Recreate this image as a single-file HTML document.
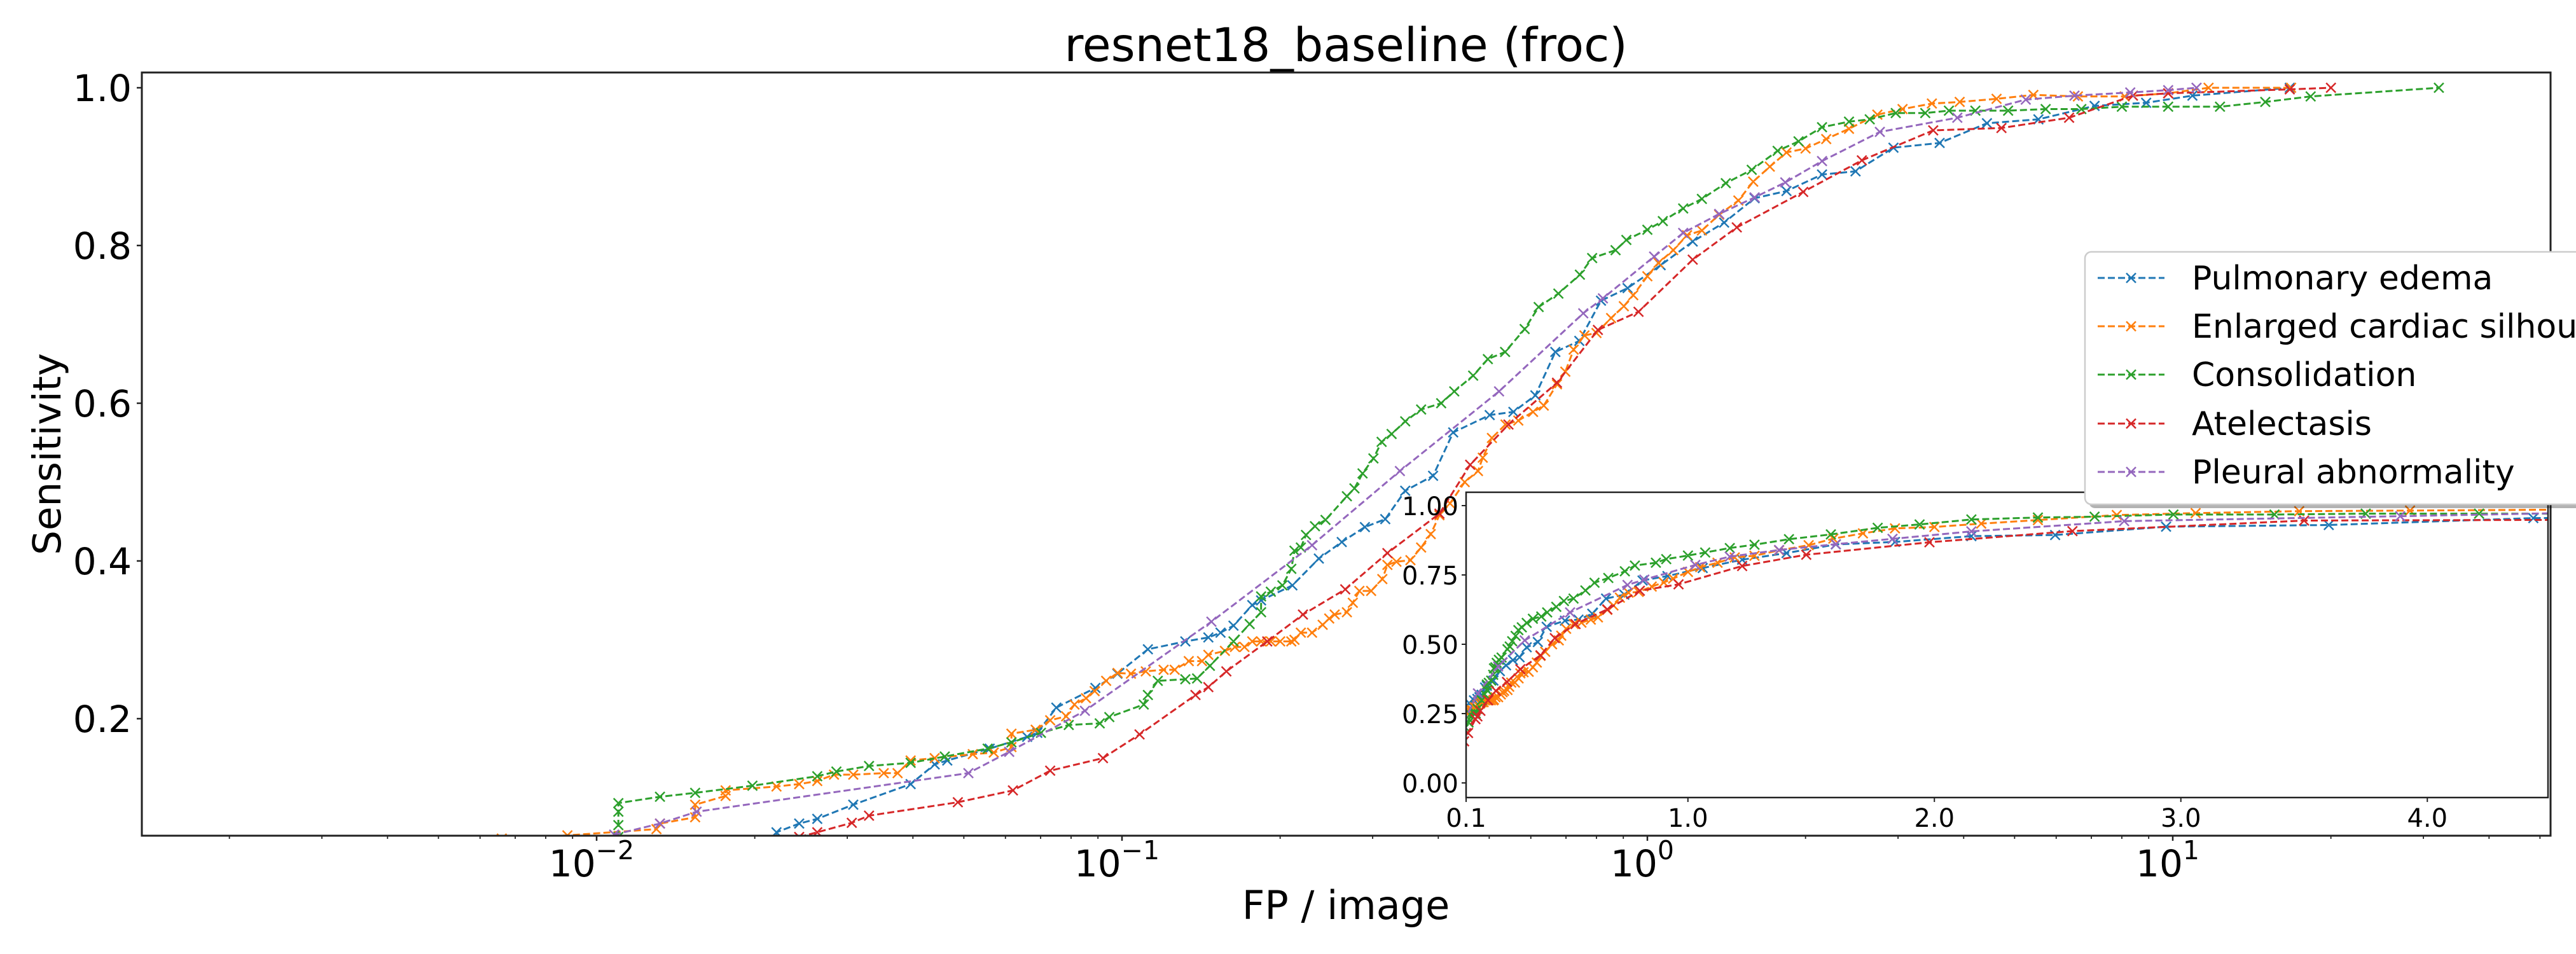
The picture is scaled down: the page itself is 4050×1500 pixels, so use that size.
<!DOCTYPE html>
<html><head><meta charset="utf-8">
<style>
html,body{margin:0;padding:0;background:#fff;}
svg{display:block;font-family:"DejaVu Sans","Liberation Sans",sans-serif;}
</style></head>
<body>
<svg id="chart" xmlns="http://www.w3.org/2000/svg" width="4050" height="1500" viewBox="0 0 4050 1500">
<defs>
<clipPath id="mainClip"><rect x="223" y="114" width="3787" height="1200"/></clipPath>
<clipPath id="insetClip"><rect x="2305" y="774" width="1701" height="480"/></clipPath>
</defs>
<rect x="0" y="0" width="4050" height="1500" fill="#fff"/>
<text x="2116" y="96" font-size="73" text-anchor="middle">resnet18_baseline (froc)</text>
<g id="mainPlot"></g>
<g id="mainAxes"></g>
<text x="2116" y="1445" font-size="62" text-anchor="middle">FP / image</text>
<text x="0" y="0" font-size="61" text-anchor="middle" transform="translate(95,714) rotate(-90)">Sensitivity</text>
<g id="inset"></g>
<g id="legend"></g>
</svg>
<script>
// ---- data: [FP per image, sensitivity] ----
const seriesNames = ["Pulmonary edema","Enlarged cardiac silhouette","Consolidation","Atelectasis","Pleural abnormality"];
const seriesColors = ["#1f77b4","#ff7f0e","#2ca02c","#d62728","#9467bd"];
const pulmonaryEdema = [[0.022,0.04],[0.022,0.056],[0.0243,0.067],[0.0263,0.073],[0.0308,0.091],[0.0396,0.117],[0.044,0.142],[0.0465,0.147],[0.056,0.162],[0.066,0.177],[0.069,0.182],[0.075,0.214],[0.089,0.239],[0.098,0.257],[0.112,0.288],[0.132,0.298],[0.146,0.303],[0.154,0.309],[0.163,0.318],[0.177,0.344],[0.184,0.35],[0.211,0.369],[0.237,0.403],[0.262,0.424],[0.29,0.443],[0.317,0.453],[0.346,0.489],[0.391,0.508],[0.427,0.563],[0.501,0.585],[0.556,0.589],[0.612,0.61],[0.668,0.665],[0.742,0.679],[0.816,0.73],[0.917,0.746],[1.06,0.775],[1.22,0.805],[1.40,0.829],[1.6,0.86],[1.84,0.869],[2.15,0.89],[2.49,0.894],[2.94,0.924],[3.6,0.93],[4.43,0.955],[5.55,0.96],[7.1,0.977],[8.9,0.981],[10.9,0.99],[16.7,1.0]];
const enlargedCardiac = [[0.0066,0.048],[0.0088,0.052],[0.013,0.06],[0.0132,0.067],[0.0154,0.075],[0.0154,0.091],[0.0176,0.102],[0.0176,0.109],[0.022,0.114],[0.0243,0.117],[0.0263,0.121],[0.0283,0.129],[0.0308,0.129],[0.0352,0.131],[0.0374,0.131],[0.0396,0.147],[0.044,0.15],[0.052,0.155],[0.057,0.157],[0.0616,0.164],[0.0616,0.181],[0.0685,0.186],[0.073,0.198],[0.0783,0.203],[0.0812,0.218],[0.0854,0.226],[0.0887,0.235],[0.0933,0.248],[0.0981,0.258],[0.104,0.257],[0.111,0.26],[0.12,0.262],[0.126,0.262],[0.134,0.273],[0.142,0.273],[0.146,0.281],[0.157,0.286],[0.164,0.291],[0.171,0.291],[0.177,0.298],[0.184,0.298],[0.192,0.298],[0.2,0.298],[0.21,0.298],[0.213,0.3],[0.219,0.309],[0.23,0.309],[0.241,0.319],[0.248,0.327],[0.254,0.332],[0.268,0.335],[0.275,0.347],[0.283,0.362],[0.298,0.362],[0.313,0.377],[0.32,0.395],[0.333,0.399],[0.354,0.401],[0.371,0.417],[0.387,0.434],[0.402,0.458],[0.421,0.473],[0.449,0.5],[0.476,0.514],[0.486,0.531],[0.506,0.556],[0.537,0.573],[0.568,0.578],[0.606,0.589],[0.635,0.597],[0.673,0.624],[0.698,0.64],[0.724,0.668],[0.759,0.686],[0.8,0.689],[0.853,0.708],[0.902,0.723],[0.94,0.737],[1.0,0.761],[1.05,0.778],[1.12,0.794],[1.19,0.813],[1.27,0.819],[1.37,0.839],[1.49,0.857],[1.59,0.881],[1.71,0.9],[1.84,0.918],[2.0,0.923],[2.19,0.935],[2.42,0.948],[2.74,0.966],[3.06,0.973],[3.48,0.98],[3.93,0.982],[4.62,0.986],[5.43,0.991],[6.6,0.989],[8.1,0.989],[9.8,0.993],[11.7,1.0],[16.8,1.0]];
const consolidation = [[0.011,0.05],[0.011,0.065],[0.011,0.082],[0.011,0.093],[0.0132,0.101],[0.0154,0.106],[0.0198,0.115],[0.0263,0.127],[0.0286,0.133],[0.033,0.14],[0.0396,0.144],[0.046,0.152],[0.0555,0.162],[0.0616,0.17],[0.0701,0.182],[0.0792,0.192],[0.0907,0.194],[0.0946,0.202],[0.11,0.218],[0.112,0.23],[0.117,0.248],[0.132,0.25],[0.139,0.251],[0.147,0.267],[0.163,0.298],[0.175,0.32],[0.184,0.335],[0.184,0.355],[0.192,0.361],[0.202,0.369],[0.21,0.39],[0.213,0.413],[0.219,0.417],[0.224,0.433],[0.233,0.444],[0.244,0.452],[0.268,0.482],[0.277,0.492],[0.287,0.511],[0.301,0.53],[0.312,0.551],[0.326,0.561],[0.346,0.577],[0.371,0.592],[0.405,0.6],[0.429,0.615],[0.466,0.635],[0.497,0.656],[0.536,0.665],[0.584,0.694],[0.621,0.722],[0.677,0.739],[0.744,0.763],[0.785,0.784],[0.87,0.794],[0.912,0.807],[1.0,0.82],[1.07,0.831],[1.17,0.847],[1.27,0.859],[1.41,0.879],[1.58,0.896],[1.77,0.92],[1.94,0.932],[2.15,0.95],[2.42,0.957],[2.65,0.96],[2.97,0.968],[3.38,0.968],[3.75,0.971],[4.21,0.971],[4.86,0.971],[5.73,0.973],[6.7,0.973],[8.0,0.976],[9.8,0.976],[12.3,0.976],[15.0,0.982],[18.3,0.989],[32.1,1.0]];
const atelectasis = [[0.0243,0.05],[0.0263,0.056],[0.0306,0.068],[0.033,0.077],[0.0487,0.094],[0.062,0.109],[0.073,0.134],[0.092,0.15],[0.108,0.18],[0.138,0.23],[0.146,0.24],[0.158,0.26],[0.189,0.298],[0.221,0.332],[0.266,0.364],[0.32,0.41],[0.402,0.46],[0.46,0.522],[0.544,0.573],[0.673,0.626],[0.805,0.693],[0.962,0.716],[1.22,0.782],[1.48,0.823],[1.98,0.868],[2.56,0.908],[3.5,0.946],[4.72,0.949],[6.35,0.962],[8.4,0.99],[9.8,0.993],[16.7,0.998],[20.0,1.0]];
const pleuralAbnormality = [[0.0108,0.053],[0.0132,0.067],[0.0155,0.082],[0.051,0.131],[0.061,0.158],[0.085,0.21],[0.148,0.323],[0.23,0.42],[0.338,0.514],[0.522,0.615],[0.755,0.714],[0.823,0.733],[1.03,0.786],[1.17,0.816],[1.37,0.84],[1.6,0.861],[1.83,0.88],[2.15,0.907],[2.77,0.944],[3.89,0.962],[5.25,0.985],[6.5,0.99],[8.3,0.994],[9.8,0.997],[11.1,1.0]];
const yTickValues = [0.2,0.4,0.6,0.8,1.0];
const yTickLabels = ["0.2","0.4","0.6","0.8","1.0"];
const xDecades = [-2,-1,0,1];
const insetYTicks = [0,0.25,0.5,0.75,1.0];
const insetYLabels = ["0.00","0.25","0.50","0.75","1.00"];
const insetXTicks = [0.1,1,2,3,4];
const insetXLabels = ["0.1","1.0","2.0","3.0","4.0"];

const allSeries = [pulmonaryEdema, enlargedCardiac, consolidation, atelectasis, pleuralAbnormality];
const NS = "http://www.w3.org/2000/svg";
function mk(tag, attrs, parent){const e=document.createElementNS(NS,tag);for(const k in attrs)e.setAttribute(k,attrs[k]);if(parent)parent.appendChild(e);return e;}

const MX0=223, MX1=4010, MY0=114, MY1=1314;
function xMain(v){return 2590 + 826*Math.log10(v);}
function yMain(v){return 138 + (1-v)*1240;}
const IX0=2305, IX1=4006, IY0=774, IY1=1254;
function xIn(v){return 2305 + (v-0.1)*387.5;}
function yIn(v){return 795 + (1-v)*436;}

function drawSeries(parent, data, color, xf, yf, idx, prefix){
  const g = mk('g',{},parent);
  
  
  const pts = data.map(p=>xf(p[0]).toFixed(1)+','+yf(p[1]).toFixed(1)).join(' ');
  const line = mk('polyline',{points:pts,fill:'none',stroke:color,'stroke-width':3,'stroke-dasharray':'11 5'},g);
  
  
  let d='';
  data.forEach(p=>{const x=xf(p[0]),y=yf(p[1]);d+=`M${(x-7.5).toFixed(1)} ${(y-7.5).toFixed(1)}L${(x+7.5).toFixed(1)} ${(y+7.5).toFixed(1)}M${(x-7.5).toFixed(1)} ${(y+7.5).toFixed(1)}L${(x+7.5).toFixed(1)} ${(y-7.5).toFixed(1)}`;});
  const m = mk('path',{d:d,stroke:color,'stroke-width':2.5,fill:'none'},g);
  
  
}

const mainPlot=document.getElementById('mainPlot');
const mclip=mk('g',{'clip-path':'url(#mainClip)'},mainPlot);
allSeries.forEach((s,i)=>drawSeries(mclip,s,seriesColors[i],xMain,yMain,i,'main'));

const ax=document.getElementById('mainAxes');
mk('rect',{x:MX0,y:MY0,width:MX1-MX0,height:MY1-MY0,fill:'none',stroke:'#222','stroke-width':3},ax);
yTickValues.forEach((v,i)=>{
  const y=yMain(v);
  mk('line',{x1:MX0-8,x2:MX0,y1:y,y2:y,stroke:'#222','stroke-width':2.5},ax);
  const t=mk('text',{x:MX0-16,y:y+21,'font-size':58,'text-anchor':'end'},ax);
  
  
  t.textContent=yTickLabels[i];
});
for(let d=-3; d<=1; d++){
  for(let k=2;k<=9;k++){
    const x=xMain(k*Math.pow(10,d));
    if(x>MX0 && x<MX1) mk('line',{x1:x,x2:x,y1:MY1,y2:MY1+5,stroke:'#222','stroke-width':1.8},ax);
  }
}
xDecades.forEach(d=>{
  const x=xMain(Math.pow(10,d));
  mk('line',{x1:x,x2:x,y1:MY1,y2:MY1+8,stroke:'#222','stroke-width':2.5},ax);
  const t=mk('text',{x:x-8,y:1378,'font-size':58,'text-anchor':'middle'},ax);
  
  
  const a=mk('tspan',{},t); a.textContent='10';
  const b=mk('tspan',{'font-size':41,dy:-27}); b.textContent=(d<0?'\u2212':'')+Math.abs(d); t.appendChild(b);
});

const inset=document.getElementById('inset');
mk('rect',{x:IX0,y:IY0,width:IX1-IX0,height:IY1-IY0,fill:'#fff'},inset);
const iclip=mk('g',{'clip-path':'url(#insetClip)'},inset);
allSeries.forEach((s,i)=>drawSeries(iclip,s,seriesColors[i],xIn,yIn,i,'inset'));
mk('rect',{x:IX0,y:IY0,width:IX1-IX0,height:IY1-IY0,fill:'none',stroke:'#222','stroke-width':2.5},inset);
insetYTicks.forEach((v,i)=>{
  const y=yIn(v);
  mk('line',{x1:IX0-7,x2:IX0,y1:y,y2:y,stroke:'#222','stroke-width':2},inset);
  const t=mk('text',{x:IX0-12,y:y+15,'font-size':40,'text-anchor':'end'},inset);
  
  
  t.textContent=insetYLabels[i];
});
insetXTicks.forEach((v,i)=>{
  const x=xIn(v);
  mk('line',{x1:x,x2:x,y1:IY1,y2:IY1+7,stroke:'#222','stroke-width':2},inset);
  const t=mk('text',{x:x,y:IY1+46,'font-size':40,'text-anchor':'middle'},inset);
  
  
  t.textContent=insetXLabels[i];
});

const lg=document.getElementById('legend');
mk('rect',{x:3284,y:402,width:900,height:397,rx:10,fill:'#000','fill-opacity':0.3},lg);
mk('rect',{x:3278,y:396,width:900,height:397,rx:10,fill:'#fff','fill-opacity':1,stroke:'#cccccc','stroke-width':2.5},lg);
const legendY=[437,513,589,666,742];
seriesNames.forEach((n,i)=>{
  const g=mk('g',{},lg);
  
  
  const y=legendY[i];
  mk('line',{x1:3298,x2:3403,y1:y,y2:y,stroke:seriesColors[i],'stroke-width':3,'stroke-dasharray':'11 5'},g);
  mk('path',{d:`M3343 ${y-7.5}L3358 ${y+7.5}M3343 ${y+7.5}L3358 ${y-7.5}`,stroke:seriesColors[i],'stroke-width':2.5},g);
  const t=mk('text',{x:3446,y:y+18,'font-size':52},g);
  t.textContent=n;
});
</script>
</body></html>
